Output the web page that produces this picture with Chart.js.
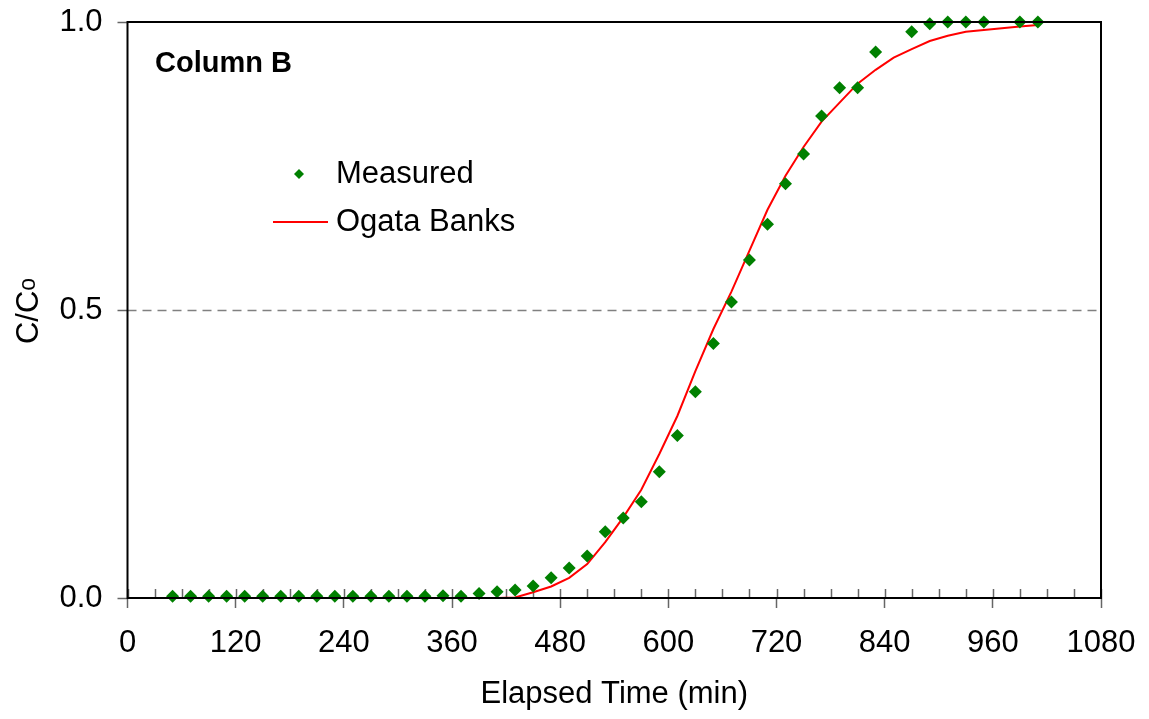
<!DOCTYPE html>
<html>
<head>
<meta charset="utf-8">
<script src="https://cdn.jsdelivr.net/npm/chart.js@4.4.1/dist/chart.umd.min.js"></script>
<style>
  html, body { margin: 0; padding: 0; background: #fff; }
  #wrap { width: 1149px; height: 719px; }
</style>
</head>
<body>
<div id="wrap"><canvas id="breakthroughChart" width="1149" height="719"></canvas></div>
<script>
// DATA
const measuredTime = [50, 70, 90, 110, 130, 150, 170, 190, 210, 230, 250, 270, 290, 310, 330,
    350, 370, 390, 410, 430, 450, 470, 490, 510, 530, 550, 570, 590, 610, 630,
    650, 670, 690, 710, 730, 750, 770, 790, 810, 830, 870, 890, 910, 930, 950, 990, 1010];
const measuredConc = [0.003, 0.003, 0.003, 0.003, 0.003, 0.003, 0.003, 0.003, 0.003, 0.003, 0.003, 0.003, 0.003, 0.003, 0.003,
    0.004, 0.003, 0.008, 0.011, 0.014, 0.021, 0.035, 0.052, 0.073, 0.115, 0.139, 0.167, 0.219, 0.282, 0.358,
    0.442, 0.514, 0.587, 0.649, 0.719, 0.771, 0.837, 0.886, 0.886, 0.948, 0.983, 0.997, 1.0, 1.0, 1.0, 1.0, 1.0];

const modelTime = [50, 70, 90, 110, 130, 150, 170, 190, 210, 230, 250, 270, 290, 310, 330, 350, 370, 390, 410,
    430, 450, 470, 490, 510, 530, 550, 570, 590, 610, 630, 650, 670, 690, 710, 730, 750, 770, 790, 810,
    830, 850, 870, 890, 910, 930, 950, 970, 990, 1010];
const modelConc = [0, 0, 0, 0, 0, 0, 0, 0, 0, 0, 0, 0, 0, 0, 0, 0, 0, 0, 0,
    0.001, 0.01, 0.02, 0.035, 0.059, 0.097, 0.14, 0.188, 0.250, 0.316, 0.394, 0.467, 0.532, 0.603, 0.674, 0.733,
    0.783, 0.827, 0.860, 0.893, 0.917, 0.938, 0.953, 0.967, 0.976, 0.983, 0.986, 0.989, 0.992, 0.995];

const xTickStep = 120;
const xMinorStep = 30;
const yTickStep = 0.5;
const refLevel = 0.5;

const toPoints = (xs, ys) => xs.map((x, i) => ({ x: x, y: ys[i] }));

const FONT = "'Liberation Sans', Arial, sans-serif";

// custom drawing: frame, minor ticks, dashed 0.5 line, labels, legend
const decorations = {
    id: 'decorations',
    beforeDatasetsDraw(chart) {
        const { ctx, chartArea, scales } = chart;
        const y = Math.round(scales.y.getPixelForValue(refLevel)) + 0.5;
        ctx.save();
        ctx.strokeStyle = '#808080';
        ctx.lineWidth = 1.5;
        ctx.setLineDash([9, 6]);
        ctx.beginPath();
        ctx.moveTo(chartArea.left, y);
        ctx.lineTo(chartArea.right, y);
        ctx.stroke();
        ctx.setLineDash([]);

        // minor ticks on x axis (inside)
        ctx.strokeStyle = '#666';
        ctx.lineWidth = 1.5;
        for (let v = 0; v <= scales.x.max; v += xMinorStep) {
            const px = Math.round(scales.x.getPixelForValue(v)) + 0.5;
            ctx.beginPath();
            ctx.moveTo(px, chartArea.bottom);
            ctx.lineTo(px, chartArea.bottom - 9);
            ctx.stroke();
        }
        ctx.restore();
    },
    afterDraw(chart) {
        const { ctx, chartArea } = chart;
        ctx.save();
        ctx.strokeStyle = '#000';
        ctx.lineWidth = 2;
        ctx.strokeRect(chartArea.left, chartArea.top, chartArea.right - chartArea.left, chartArea.bottom - chartArea.top);

        ctx.fillStyle = '#000';
        ctx.textBaseline = 'middle';
        ctx.textAlign = 'left';
        ctx.font = 'bold 29px ' + FONT;
        ctx.fillText('Column B', 155, 64);

        // legend
        ctx.font = '31px ' + FONT;
        ctx.fillText('Measured', 336, 174);
        ctx.fillText('Ogata Banks', 336, 222);
        ctx.fillStyle = '#008000';
        ctx.beginPath();
        ctx.moveTo(299, 169); ctx.lineTo(304, 174); ctx.lineTo(299, 179); ctx.lineTo(294, 174);
        ctx.closePath();
        ctx.fill();
        ctx.strokeStyle = '#ff0000';
        ctx.lineWidth = 2;
        ctx.beginPath();
        ctx.moveTo(273, 222);
        ctx.lineTo(328, 222);
        ctx.stroke();

        // y axis title C/Co
        ctx.translate(38, 311);
        ctx.rotate(-Math.PI / 2);
        ctx.fillStyle = '#000';
        ctx.textBaseline = 'alphabetic';
        const main = 'C/C';
        ctx.font = '23px ' + FONT;
        const subW = ctx.measureText('o').width;
        ctx.font = '31px ' + FONT;
        const mainW = ctx.measureText(main).width;
        const start = -(mainW + subW) / 2;
        ctx.fillText(main, start, 0);
        ctx.font = '23px ' + FONT;
        ctx.fillText('o', start + mainW, -3);
        ctx.restore();
    }
};

new Chart(document.getElementById('breakthroughChart'), {
    type: 'scatter',
    data: {
        datasets: [{
            label: 'Measured',
            data: toPoints(measuredTime, measuredConc),
            pointStyle: 'rectRot',
            pointRadius: 6.5,
            backgroundColor: '#008000',
            borderColor: '#008000',
            borderWidth: 0,
            showLine: false,
            clip: false
        }, {
            label: 'Ogata Banks',
            data: toPoints(modelTime, modelConc),
            showLine: true,
            borderColor: '#ff0000',
            borderWidth: 2,
            pointRadius: 0,
            tension: 0,
            clip: false
        }]
    },
    options: {
        responsive: false,
        animation: false,
        events: [],
        layout: { padding: { top: 22, right: 48, left: 0, bottom: 0 } },
        plugins: {
            legend: { display: false },
            tooltip: { enabled: false }
        },
        scales: {
            x: {
                type: 'linear',
                min: 0,
                max: 1080,
                afterFit: s => { s.height = 121; s.paddingLeft = 0; s.paddingRight = 0; },
                border: { display: false },
                grid: {
                    drawOnChartArea: false,
                    drawTicks: true,
                    tickLength: 10,
                    tickColor: '#666',
                    tickWidth: 1.5
                },
                ticks: {
                    stepSize: xTickStep,
                    color: '#000',
                    padding: 17,
                    maxRotation: 0,
                    font: { family: FONT, size: 31 },
                    callback: v => String(v)
                },
                title: {
                    display: true,
                    text: 'Elapsed Time (min)',
                    color: '#000',
                    font: { family: FONT, size: 31 },
                    padding: { top: 0, bottom: 6 }
                }
            },
            y: {
                type: 'linear',
                min: 0,
                max: 1,
                afterFit: s => { s.width = 127.5; s.paddingTop = 0; s.paddingBottom = 0; },
                border: { display: false },
                grid: {
                    drawOnChartArea: false,
                    drawTicks: true,
                    tickLength: 10,
                    tickColor: '#666',
                    tickWidth: 1.5
                },
                ticks: {
                    stepSize: yTickStep,
                    color: '#000',
                    padding: 15,
                    font: { family: FONT, size: 31 },
                    callback: v => v.toFixed(1)
                }
            }
        }
    },
    plugins: [decorations]
});
</script>
</body>
</html>
